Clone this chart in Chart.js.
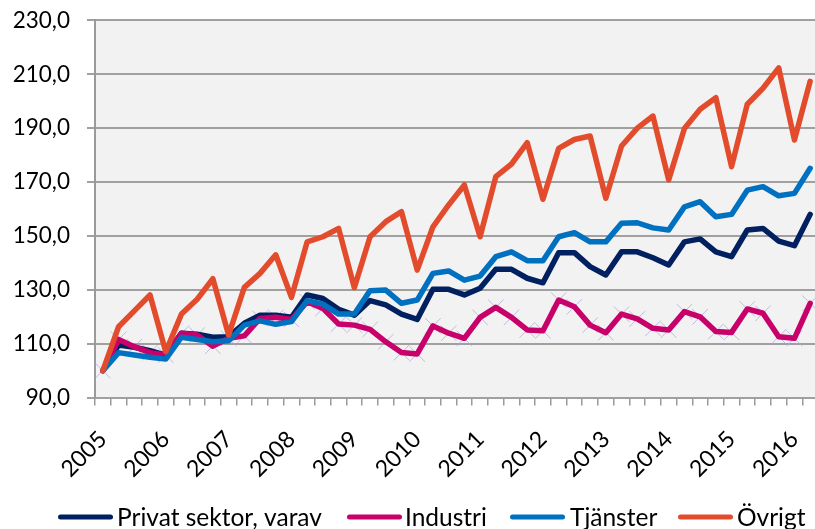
<!DOCTYPE html>
<html><head><meta charset="utf-8">
<script src="https://cdn.jsdelivr.net/npm/chart.js@4"></script>
<style>html,body{margin:0;padding:0;overflow:hidden;background:#fff}#wrap{width:830px;height:529px}</style>
</head><body><div id="wrap"><canvas id="c" width="830" height="529"></canvas></div>
<script>
const categories = [
 '2005K1','2005K2','2005K3','2005K4','2006K1','2006K2','2006K3','2006K4',
 '2007K1','2007K2','2007K3','2007K4','2008K1','2008K2','2008K3','2008K4',
 '2009K1','2009K2','2009K3','2009K4','2010K1','2010K2','2010K3','2010K4',
 '2011K1','2011K2','2011K3','2011K4','2012K1','2012K2','2012K3','2012K4',
 '2013K1','2013K2','2013K3','2013K4','2014K1','2014K2','2014K3','2014K4',
 '2015K1','2015K2','2015K3','2015K4','2016K1','2016K2'];
const tickLabels = [
 '2005','','','','2006','','','','2007','','','','2008','','','',
 '2009','','','','2010','','','','2011','','','','2012','','','',
 '2013','','','','2014','','','','2015','','','','2016',''];
const privat = [100,109.5,108.7,107.4,105.8,113.9,113.5,112.4,112.6,117.6,
 120.6,120.6,119.8,128.1,126.8,122.8,120.6,126.0,124.4,121.0,
 119.0,130.2,130.2,128.1,130.6,137.6,137.6,134.3,132.6,143.8,
 143.8,138.6,135.5,144.1,144.1,141.9,139.2,147.8,148.9,144.1,
 142.3,152.2,152.8,148.1,146.4,158.0];
const industri = [100,111.6,108.9,106.7,105.8,113.9,113.2,109.1,112.0,112.9,
 119.4,119.8,119.0,125.6,123.1,117.3,116.9,115.3,110.7,106.7,
 106.2,116.6,113.9,112.0,119.8,123.5,119.8,115.1,114.8,126.2,
 123.7,116.9,114.1,121.0,119.2,115.7,115.1,121.9,120.0,114.5,
 114.2,122.9,121.3,112.6,112.0,125.0];
const tjanster = [100,106.7,105.8,105.0,104.3,112.4,111.6,110.7,111.1,116.9,
 118.5,117.2,118.2,126.0,124.7,121.0,121.0,129.7,129.9,125.0,
 126.2,136.1,137.0,133.6,135.1,142.3,144.1,140.8,140.8,149.7,
 151.2,147.8,147.8,154.7,154.9,153.0,152.2,160.8,162.7,157.1,
 158.0,167.0,168.3,164.9,165.8,175.1];
const ovrigt = [100,116.3,122.2,128.1,107.0,121.0,126.5,134.1,113.2,130.9,
 136.1,143.0,127.2,147.8,149.7,152.8,130.8,149.7,155.3,159.0,
 137.3,153.4,161.5,168.9,149.7,172.0,176.7,184.6,163.6,182.5,
 185.8,187.1,164.0,183.4,190.0,194.5,170.8,189.9,197.0,201.3,
 175.7,198.9,204.8,212.4,185.6,207.4];
const seriesNames = ['Privat sektor, varav','Industri','Tjänster','Övrigt'];
const seriesColors = ['#002060','#c8006a','#0070c0','#e24c2c'];

const FONT = 'Lato, "Open Sans", sans-serif';

const bgPlugin = {
  id:'bg',
  beforeDraw(chart){
    const {ctx, chartArea:a} = chart;
    ctx.save(); ctx.fillStyle = '#f2f2f2';
    ctx.fillRect(a.left, a.top, a.right - a.left, a.bottom - a.top);
    ctx.restore();
  }
};
const legendPlugin = {
  id:'customLegend',
  afterDraw(chart){
    const ctx = chart.ctx;
    const items = [[58,113,117],[347,402,405],[510,565,570],[678,733,737]];
    const y = 517;
    ctx.save();
    ctx.font = '24.5px ' + FONT;
    ctx.textBaseline = 'middle';
    items.forEach((it,i)=>{
      ctx.strokeStyle = seriesColors[i];
      ctx.lineWidth = 5; ctx.lineCap = 'round';
      ctx.beginPath(); ctx.moveTo(it[0]+2.5,y); ctx.lineTo(it[1]-2.5,y); ctx.stroke();
      ctx.fillStyle = '#000';
      ctx.fillText(seriesNames[i], it[2], y+1);
    });
    ctx.restore();
  }
};

const lineDs = (label, data, color, order) => ({
  label, data, borderColor: color, backgroundColor: color, borderWidth: 5.5,
  pointRadius: 0, borderCapStyle: 'round', borderJoinStyle: 'round',
  tension: 0, fill: false, order
});

new Chart(document.getElementById('c'), {
  type: 'line',
  data: {
    labels: categories,
    datasets: [
      lineDs(seriesNames[0], privat, seriesColors[0], 4),
      lineDs(seriesNames[1], industri, seriesColors[1], 3),
      lineDs(seriesNames[2], tjanster, seriesColors[2], 2),
      lineDs(seriesNames[3], ovrigt, seriesColors[3], 1),
      { label:'markers', data: industri, showLine:false, pointStyle:'crossRot',
        pointRadius: 11, pointBorderWidth: 1, pointBorderColor:'rgba(175,165,220,0.75)',
        pointBackgroundColor:'rgba(0,0,0,0)', order: 5 }
    ]
  },
  options: {
    responsive: false, animation: false, devicePixelRatio: 1,
    layout: { padding: { left: 0, top: 20.4, right: 9.6, bottom: 0 } },
    plugins: { legend: { display: false }, tooltip: { enabled: false } },
    scales: {
      x: {
        offset: true,
        grid: { display: true, offset: true, drawOnChartArea: false, drawTicks: true,
                tickLength: 8, color: '#9a9a9a', lineWidth: 1.5 },
        border: { display: false },
        ticks: { autoSkip: false, minRotation: 45, maxRotation: 45, padding: 20,
                 color: '#000', font: { family: FONT, size: 23 },
                 callback: (v, i) => tickLabels[i] },
        afterFit: s => { s.height = 131.4; s.paddingLeft = 0; s.paddingRight = 0; }
      },
      y: {
        min: 90, max: 230,
        ticks: { stepSize: 20, padding: 17, color: '#000', font: { family: FONT, size: 22.5 },
                 callback: v => v.toFixed(1).replace('.', ',') },
        grid: { color: '#a0a0a0', lineWidth: 2, tickLength: 8 },
        border: { display: true, color: '#9a9a9a', width: 2 },
        afterFit: s => { s.width = 95; s.paddingTop = 0; s.paddingBottom = 0; }
      }
    }
  },
  plugins: [bgPlugin, legendPlugin]
});
</script></body></html>
